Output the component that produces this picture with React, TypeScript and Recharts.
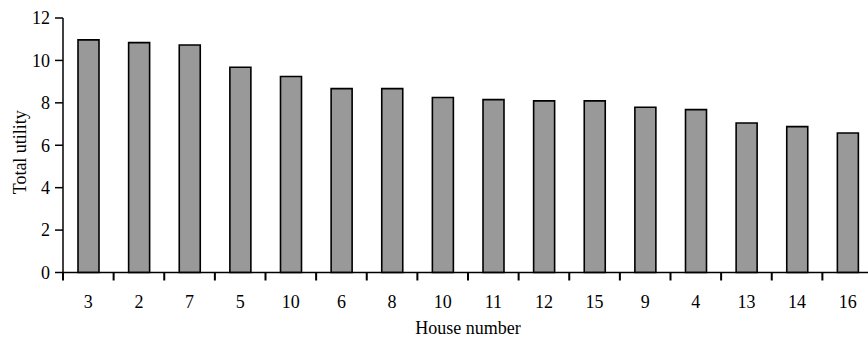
import { BarChart, Bar, XAxis, YAxis } from "recharts";

const houses = ["3", "2", "7", "5", "10", "6", "8", "10", "11", "12", "15", "9", "4", "13", "14", "16"];
const utility = [10.97, 10.84, 10.73, 9.68, 9.24, 8.67, 8.67, 8.25, 8.15, 8.09, 8.09, 7.79, 7.68, 7.05, 6.88, 6.58];
const yTicks = [0, 2, 4, 6, 8, 10, 12];

const data = houses.map((h, i) => ({ key: `${h}-${i}`, house: h, utility: utility[i] }));

const font = "'Liberation Serif', 'Times New Roman', serif";
const BAND = 810 / houses.length;
const CHART_H = 337;

// category labels sit in the middle, tick marks sit on the band edges
const HouseTick = (props: any) => {
  const { x, y, payload } = props;
  const item = data[payload.index];
  const bx = Number(x) - BAND / 2;
  const ty = Number(y);
  return (
    <g>
      <rect x={bx - 1} y={ty} width={2} height={8} fill="#000" />
      <text x={x} y={ty + 35} textAnchor="middle" fontFamily={font} fontSize={18} fill="#000">
        {item ? item.house : ""}
      </text>
    </g>
  );
};

const XTitle = (props: any) => {
  const vb = props.viewBox || { x: 0, width: 0 };
  return (
    <text x={vb.x + 405} y={CHART_H - 3} textAnchor="middle" fontFamily={font} fontSize={18} fill="#000">
      House number
    </text>
  );
};

const YTitle = (props: any) => {
  const vb = props.viewBox || { x: 0, y: 0, height: 0 };
  const cx = vb.x + 20;
  const cy = vb.y + vb.height / 2 + 7;
  return (
    <text x={cx} y={cy} transform={`rotate(-90, ${cx}, ${cy})`} textAnchor="middle" dominantBaseline="central" fontFamily={font} fontSize={18} fill="#000">
      Total utility
    </text>
  );
};

const App = () => {
  return (
    <div style={{ position: "fixed", left: 0, top: 0, width: 868, height: 337, overflow: "hidden", background: "#fff" }}>
      <BarChart width={880} height={CHART_H} data={data} margin={{ top: 18, right: 7, left: 0, bottom: 0 }}>
        <XAxis
          dataKey="key"
          height={64.5}
          interval={0}
          tickLine={false}
          tickSize={0}
          tickMargin={0}
          tick={<HouseTick />}
          axisLine={{ stroke: "#000", strokeWidth: 1.5 }}
          label={{ content: <XTitle /> }}
        />
        <YAxis
          width={63}
          domain={[0, 12]}
          ticks={yTicks}
          interval={0}
          tickSize={8}
          tickMargin={5}
          tick={{ fontFamily: font, fontSize: 18, fill: "#000" }}
          tickLine={{ stroke: "#000", strokeWidth: 1.5 }}
          axisLine={{ stroke: "#000", strokeWidth: 1.5 }}
          label={{ content: <YTitle /> }}
        />
        <Bar dataKey="utility" barSize={21} fill="#999999" stroke="#000" strokeWidth={1.6} isAnimationActive={false} />
      </BarChart>
    </div>
  );
};

export default App;
